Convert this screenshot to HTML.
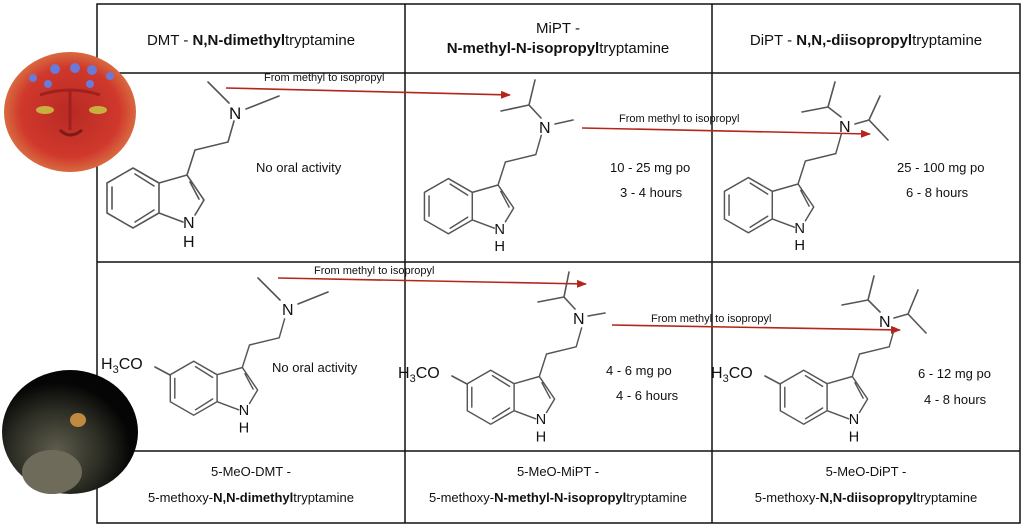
<!DOCTYPE html>
<html><head><meta charset="utf-8"><style>
html,body{margin:0;padding:0;background:#fff}
body{width:1024px;height:532px;overflow:hidden}
svg{display:block}
text{font-family:"Liberation Sans",Arial,sans-serif;fill:#111}
.m{stroke:#555;stroke-width:1.6;fill:none;stroke-linecap:round}
</style></head><body>
<svg width="1024" height="532" viewBox="0 0 1024 532">
<defs>
<g id="ind">
<path class="m" d="M133,168 L159,183 L159,213 L133,228 L107,213 L107,183 Z M159,183 L187,175 L204,200 L195,215 M183,222 L159,213 M112,187 L112,209 M135,174 L154,186 M135,222 L154,210 M190,182 L199,199 M187,175 L195,150 L228,142 L234,121"/>
<text x="183" y="228" font-size="16">N</text>
<text x="183" y="247" font-size="16">H</text>
</g>
<radialGradient id="face" cx="50%" cy="50%" r="50%">
<stop offset="0" stop-color="#b82a24"/><stop offset="0.75" stop-color="#d0382c"/><stop offset="1" stop-color="#d86a40"/></radialGradient>
<radialGradient id="toad" cx="40%" cy="65%" r="55%">
<stop offset="0" stop-color="#5e5c4c"/><stop offset="0.6" stop-color="#2c2d24"/><stop offset="1" stop-color="#050505"/></radialGradient>
<marker id="ar" markerWidth="10" markerHeight="8" refX="9" refY="4" orient="auto" markerUnits="userSpaceOnUse"><path d="M0,0 L10,4 L0,8 Z" fill="#b3261c"/></marker>
</defs>

<g stroke="#111" stroke-width="1.5" fill="none">
<rect x="97" y="4" width="923" height="519"/>
<line x1="97" y1="73" x2="1020" y2="73"/>
<line x1="97" y1="262" x2="1020" y2="262"/>
<line x1="97" y1="451" x2="1020" y2="451"/>
<line x1="405" y1="4" x2="405" y2="523"/>
<line x1="712" y1="4" x2="712" y2="523"/>
</g>

<text x="251" y="45" font-size="15" text-anchor="middle">DMT - <tspan font-weight="bold">N,N-dimethyl</tspan>tryptamine</text>
<text x="558" y="33" font-size="15" text-anchor="middle">MiPT -</text>
<text x="558" y="53" font-size="15" text-anchor="middle"><tspan font-weight="bold">N-methyl-N-isopropyl</tspan>tryptamine</text>
<text x="866" y="45" font-size="15" text-anchor="middle">DiPT - <tspan font-weight="bold">N,N,-diisopropyl</tspan>tryptamine</text>

<text x="251" y="476" font-size="13" text-anchor="middle">5-MeO-DMT -</text>
<text x="251" y="502" font-size="13" text-anchor="middle">5-methoxy-<tspan font-weight="bold">N,N-dimethyl</tspan>tryptamine</text>
<text x="558" y="476" font-size="13" text-anchor="middle">5-MeO-MiPT -</text>
<text x="558" y="502" font-size="13" text-anchor="middle">5-methoxy-<tspan font-weight="bold">N-methyl-N-isopropyl</tspan>tryptamine</text>
<text x="866" y="476" font-size="13" text-anchor="middle">5-MeO-DiPT -</text>
<text x="866" y="502" font-size="13" text-anchor="middle">5-methoxy-<tspan font-weight="bold">N,N-diisopropyl</tspan>tryptamine</text>

<use href="#ind"/>
<text x="229" y="119" font-size="17">N</text>
<path class="m" d="M208,82 L229,103 M246,109 L279,96"/>
<text x="256" y="172" font-size="13">No oral activity</text>

<g transform="translate(326,24) scale(0.92)"><use href="#ind"/></g>
<text x="539" y="133" font-size="16">N</text>
<path class="m" d="M541,118 L529,105 L535,80 M529,105 L501,111 M555,124 L573,120"/>
<text x="610" y="172" font-size="13">10 - 25 mg po</text>
<text x="620" y="197" font-size="13">3 - 4 hours</text>

<g transform="translate(626,23) scale(0.92)"><use href="#ind"/></g>
<text x="839" y="132" font-size="16">N</text>
<path class="m" d="M841,117 L828,107 L835,82 M828,107 L802,112 M855,124 L869,120 L880,96 M869,120 L888,140"/>
<text x="897" y="172" font-size="13">25 - 100 mg po</text>
<text x="906" y="197" font-size="13">6 - 8 hours</text>

<g transform="translate(74,210) scale(0.9)"><use href="#ind"/></g>
<text x="282" y="315" font-size="16">N</text>
<path class="m" d="M258,278 L280,300 M298,304 L328,292 M155,367 L170,375"/>
<text x="101" y="369" font-size="16" fill="#333">H<tspan font-size="11" dy="4">3</tspan><tspan dy="-4">CO</tspan></text>
<text x="272" y="372" font-size="13">No oral activity</text>

<g transform="translate(371,219) scale(0.9)"><use href="#ind"/></g>
<text x="573" y="324" font-size="16">N</text>
<path class="m" d="M575,309 L564,297 L569,272 M564,297 L538,302 M588,316 L605,313 M452,376 L467,384"/>
<text x="398" y="378" font-size="16">H<tspan font-size="11" dy="4">3</tspan><tspan dy="-4">CO</tspan></text>
<text x="606" y="375" font-size="13">4 - 6 mg po</text>
<text x="616" y="400" font-size="13">4 - 6 hours</text>

<g transform="translate(684,219) scale(0.9)"><use href="#ind"/></g>
<text x="879" y="327" font-size="16">N</text>
<path class="m" d="M880,312 L868,300 L874,276 M868,300 L842,305 M894,318 L908,314 L918,290 M908,314 L926,333 M765,376 L780,384"/>
<text x="711" y="378" font-size="16">H<tspan font-size="11" dy="4">3</tspan><tspan dy="-4">CO</tspan></text>
<text x="918" y="378" font-size="13">6 - 12 mg po</text>
<text x="924" y="404" font-size="13">4 - 8 hours</text>

<g stroke="#b3261c" stroke-width="1.6" fill="none">
<line x1="226" y1="88" x2="510" y2="95" marker-end="url(#ar)"/>
<line x1="582" y1="128" x2="870" y2="134" marker-end="url(#ar)"/>
<line x1="278" y1="278" x2="586" y2="284" marker-end="url(#ar)"/>
<line x1="612" y1="325" x2="900" y2="330" marker-end="url(#ar)"/>
</g>
<text x="264" y="81" font-size="11">From methyl to isopropyl</text>
<text x="619" y="122" font-size="11">From methyl to isopropyl</text>
<text x="314" y="274" font-size="11">From methyl to isopropyl</text>
<text x="651" y="322" font-size="11">From methyl to isopropyl</text>

<ellipse cx="70" cy="112" rx="66" ry="60" fill="url(#face)"/>
<g fill="#6a7ad8"><circle cx="55" cy="69" r="5"/><circle cx="75" cy="68" r="5"/><circle cx="92" cy="70" r="5"/><circle cx="33" cy="78" r="4"/><circle cx="110" cy="76" r="4"/><circle cx="48" cy="84" r="4"/><circle cx="90" cy="84" r="4"/></g>
<ellipse cx="45" cy="110" rx="9" ry="4" fill="#c8b040"/><ellipse cx="98" cy="110" rx="9" ry="4" fill="#c8b040"/>
<path d="M60,130 Q70,140 82,130" stroke="#7a1a1a" stroke-width="3" fill="none"/>
<path d="M40,95 Q70,85 100,95 M70,90 L70,130" stroke="#a02020" stroke-width="3" fill="none"/>
<ellipse cx="70" cy="432" rx="68" ry="62" fill="url(#toad)"/>
<ellipse cx="78" cy="420" rx="8" ry="7" fill="#c08a40"/>
<ellipse cx="52" cy="472" rx="30" ry="22" fill="#6e6b5a"/>
</svg>
</body></html>
